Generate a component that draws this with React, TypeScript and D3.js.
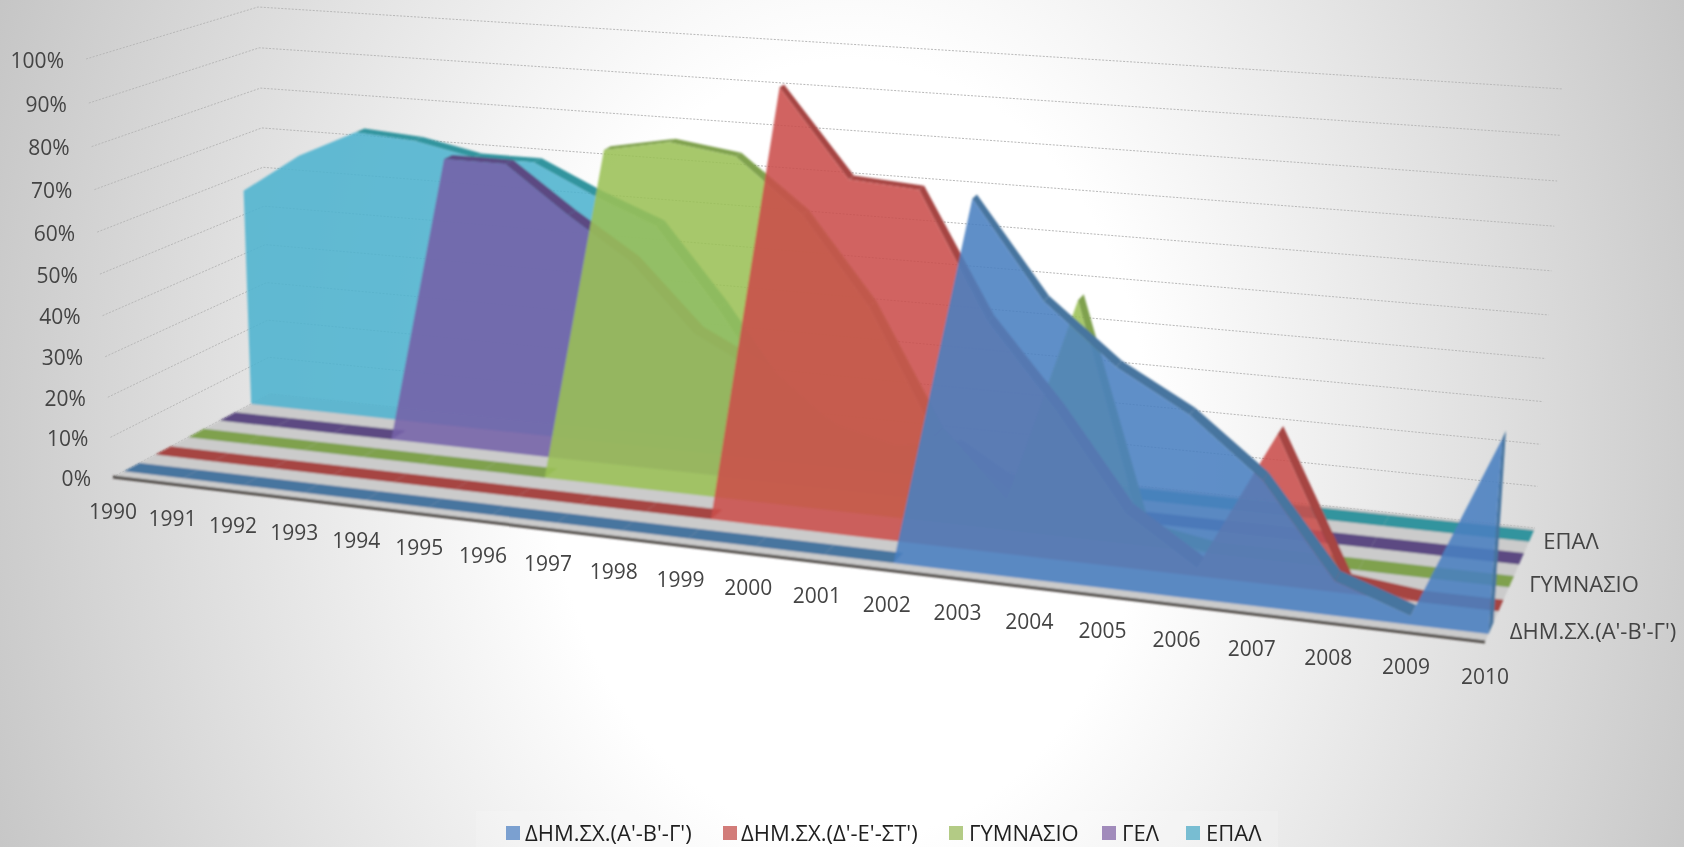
import * as d3 from 'd3'

const years = d3.range(1990, 2011)
const yearLabels = years.map(String)
const valueTicks = [0, 10, 20, 30, 40, 50, 60, 70, 80, 90, 100]

// values in percent
const elementaryLow = [0, 0, 0, 0, 0, 0, 0, 0, 0, 0, 0, 0, 0, 85, 64, 51, 42, 29, 8, 2, 44]
const elementaryHigh = [0, 0, 0, 0, 0, 0, 0, 0, 0, 0, 102, 83, 82, 54, 35, 13, 2, 35, 2, 0, 0]
const gymnasio = [0, 0, 0, 0, 0, 0, 0, 81, 84, 82, 70, 50, 21, 4, 56, 3, 0, 0, 0, 0, 0]
const gel = [0, 0, 0, 0, 72, 72, 61, 51, 35, 27, 14, 10, 13, 3, 0, 0, 0, 0, 0, 0, 0]
const epal = [56, 66, 73, 72, 69, 69, 62, 56, 37, 15, 6, 2, 0, 0, 0, 0, 0, 0, 0, 0, 0]

const seriesNames = ["ΔΗΜ.ΣΧ.(Α'-Β'-Γ')", "ΔΗΜ.ΣΧ.(Δ'-Ε'-ΣΤ')", 'ΓΥΜΝΑΣΙΟ', 'ΓΕΛ', 'ΕΠΑΛ']
const seriesValues = [elementaryLow, elementaryHigh, gymnasio, gel, epal]
const faceColors = ['#4a80c0', '#cb4f4b', '#9bc056', '#7562a8', '#4fb3cf']
const ridgeColors = ['#47749f', '#a64442', '#7fa14e', '#5c4a82', '#31949e']
const legendColors = ['#7ba0d0', '#d27c79', '#b3cb85', '#a18bbb', '#78bdd2']
const depthCentres = [0.12, 0.32, 0.53, 0.73, 0.93]
const depthLabels = [
  { name: "ΔΗΜ.ΣΧ.(Α'-Β'-Γ')", x: 1593, y: 633 },
  { name: 'ΓΥΜΝΑΣΙΟ', x: 1584, y: 586 },
  { name: 'ΕΠΑΛ', x: 1571, y: 543 },
]
const legendItems = [
  { swatch: 506, text: 525 },
  { swatch: 723, text: 741 },
  { swatch: 949, text: 969 },
  { swatch: 1102, text: 1122 },
  { swatch: 1186, text: 1206 },
]

const slabDepth = 0.1
const fontFamily = '"Open Sans", sans-serif'

const xScale = d3.scaleLinear().domain([1990, 2010]).range([0, 1])
const yScale = d3.scaleLinear().domain([0, 100]).range([0, 1])

// foreshortening along the axes, the chart is a perspective view
const warp = (t: number, k: number) => ((1 + k) * t) / (1 + k * t)

// screen corners of the box the chart sits in
const floorFL = [113, 477]
const floorFR = [1485, 642]
const floorBL = [270, 394]
const floorBR = [1535, 528]
const topFL = [86, 59]
const topFR = [1518, 181]
const topBL = [258, 7]
const topBR = [1563, 89]

const mix = (a: number[], b: number[], t: number) => [a[0] + (b[0] - a[0]) * t, a[1] + (b[1] - a[1]) * t]

function project(year: number, value: number, depth: number) {
  const sx = warp(xScale(year), -0.138)
  const sy = warp(yScale(value), -0.057)
  const floor = mix(mix(floorFL, floorFR, sx), mix(floorBL, floorBR, sx), depth)
  const top = mix(mix(topFL, topFR, sx), mix(topBL, topBR, sx), depth)
  return mix(floor, top, sy)
}

interface Pt {
  year: number
  value: number
}

export default function App() {
  const line = d3.line()

  const faceArea = (depth: number) =>
    d3
      .area<Pt>()
      .x0(d => project(d.year, 0, depth)[0])
      .y0(d => project(d.year, 0, depth)[1])
      .x1(d => project(d.year, d.value, depth)[0])
      .y1(d => project(d.year, d.value, depth)[1])

  // top of the slab gets thinner with height, like in the original
  const backDepth = (front: number, value: number) => front + slabDepth * (1 - 0.6 * yScale(Math.min(value, 100)))

  const ridgeQuad = (a: Pt, b: Pt, front: number) =>
    [
      project(a.year, a.value, front),
      project(b.year, b.value, front),
      project(b.year, b.value, backDepth(front, b.value)),
      project(a.year, a.value, backDepth(front, a.value)),
    ] as [number, number][]

  const corners = [floorFL, floorFR, floorBR, floorBL] as [number, number][]

  return (
    <svg
      width={1684}
      height={847}
      style={{ position: 'fixed', left: 0, top: 0, display: 'block' }}
      fontFamily={fontFamily}
    >
      <defs>
        <radialGradient id="bg" gradientUnits="userSpaceOnUse" cx={0} cy={0} r={1} gradientTransform="translate(850 450) scale(1000 1300)">
          <stop offset="0%" stopColor="#ffffff" />
          <stop offset="30%" stopColor="#ffffff" />
          <stop offset="100%" stopColor="#bebebe" />
        </radialGradient>
        <filter id="soft" x="-5%" y="-5%" width="110%" height="110%">
          <feGaussianBlur stdDeviation="0.9" />
        </filter>
      </defs>
      <rect width={1684} height={847} fill="url(#bg)" />

      {/* grid stays out of the blur so it keeps its dotted look */}
      {valueTicks.map(v => (
        <path
          key={v}
          d={line([project(1990, v, 0), project(1990, v, 1), project(2010, v, 1)] as [number, number][]) ?? ''}
          fill="none"
          stroke="#b8b8b8"
          strokeWidth={1}
          strokeDasharray="2 1.5"
        />
      ))}

      <g filter="url(#soft)">
        <path d={(line(corners) ?? '') + 'Z'} fill="#cbcbcb" />
        <path
          d={line([floorFL, floorFR] as [number, number][]) ?? ''}
          stroke="#4a4440"
          strokeWidth={3}
          fill="none"
        />

        {/* back to front, every series is a thin slab */}
        {seriesValues
          .map((values, i) => {
            const pts: Pt[] = values.map((value, j) => ({ year: years[j], value }))
            const front = depthCentres[i] - slabDepth / 2
            const last = pts[pts.length - 1]
            const cap = [
              project(last.year, 0, front),
              project(last.year, last.value, front),
              project(last.year, last.value, backDepth(front, last.value)),
              project(last.year, 0, backDepth(front, 0)),
            ] as [number, number][]
            const face = faceArea(front)(pts) ?? ''
            return (
              <g key={seriesNames[i]}>
                {pts.slice(1).map((p, j) =>
                  // a rising stretch sits behind the face and does not show
                  p.value - pts[j].value > 5 ? null : (
                    <path key={p.year} d={(line(ridgeQuad(pts[j], p, front)) ?? '') + 'Z'} fill={ridgeColors[i]} />
                  )
                )}
                {last.value > 0 && <path d={(line(cap) ?? '') + 'Z'} fill={ridgeColors[i]} />}
                <path d={face} fill={faceColors[i]} fillOpacity={0.88} />
              </g>
            )
          })
          .reverse()}
      </g>

      <g fontSize={21} fill="#444">
        {valueTicks.map(v => {
          const [x, y] = project(1990, v, 0)
          return (
            <text key={v} x={x - 22} y={y + 3} textAnchor="end" dominantBaseline="middle">
              {v}%
            </text>
          )
        })}
        {years.map((year, i) => {
          const [x, y] = project(year, 0, 0)
          return (
            <text key={year} x={x} y={y + 36} textAnchor="middle" dominantBaseline="middle">
              {yearLabels[i]}
            </text>
          )
        })}
        {depthLabels.map(d => (
          <text key={d.name} x={d.x} y={d.y} fontSize={22} textAnchor="middle" dominantBaseline="middle">
            {d.name}
          </text>
        ))}
      </g>

      <rect x={476} y={811} width={802} height={36} fill="#ffffff" fillOpacity={0.15} />
      {seriesNames.map((name, i) => (
        <g key={name}>
          <rect x={legendItems[i].swatch} y={826} width={14} height={14} fill={legendColors[i]} />
          <text x={legendItems[i].text} y={835} fontSize={22} fill="#1f1f1f" dominantBaseline="middle">
            {name}
          </text>
        </g>
      ))}
    </svg>
  )
}
